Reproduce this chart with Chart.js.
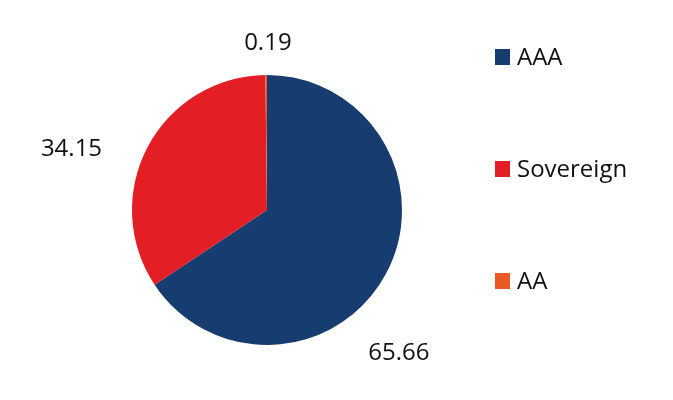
<!DOCTYPE html>
<html><head><meta charset="utf-8">
<script src="https://cdn.jsdelivr.net/npm/chart.js@4"></script>
<style>html,body{margin:0;padding:0;background:#fff}#wrap{width:673px;height:400px;position:relative}</style>
</head><body><div id="wrap"><canvas id="c" width="673" height="400"></canvas></div>
<script>
const categories = ["AAA", "Sovereign", "AA"];
const values = [65.66, 34.15, 0.19];
const valueLabels = ["65.66", "34.15", "0.19"];
const colors = ["#173c70", "#e31e25", "#ea5a24"];

// label placement: angle (deg, canvas coords) and distance from centre, relative to radius
const labelPlace = [{a: 47.2, d: 59}, {a: 197.5, d: 70}, {a: -89.7, d: 33}];

const FONT = "'Open Sans', 'Noto Sans', sans-serif";

const deco = {
  id: 'deco',
  afterDraw(chart) {
    const ctx = chart.ctx;
    const arc = chart.getDatasetMeta(0).data[0];
    const cx = arc.x, cy = arc.y, r = arc.outerRadius;
    ctx.save();
    ctx.fillStyle = '#111';
    ctx.font = '24px ' + FONT;
    ctx.textAlign = 'center';
    ctx.textBaseline = 'middle';
    valueLabels.forEach((t, i) => {
      const p = labelPlace[i];
      const ang = p.a * Math.PI / 180;
      ctx.fillText(t, cx + Math.cos(ang) * (r + p.d), cy + Math.sin(ang) * (r + p.d) + 1);
    });
    // legend
    ctx.textAlign = 'left';
    categories.forEach((c, i) => {
      const y = 57 + i * 112;
      ctx.fillStyle = colors[i];
      ctx.fillRect(495, y - 8, 15, 16);
      ctx.fillStyle = '#111';
      ctx.font = '24px ' + FONT;
      ctx.fillText(c, 517, y + 1);
    });
    ctx.restore();
  }
};

new Chart(document.getElementById('c'), {
  type: 'pie',
  data: {
    labels: categories,
    datasets: [{ data: values, backgroundColor: colors, borderWidth: 0 }]
  },
  options: {
    responsive: false,
    animation: false,
    layout: { padding: { left: 132, right: 271, top: 75, bottom: 55 } },
    plugins: { legend: { display: false }, tooltip: { enabled: false } }
  },
  plugins: [deco]
});
</script></body></html>
